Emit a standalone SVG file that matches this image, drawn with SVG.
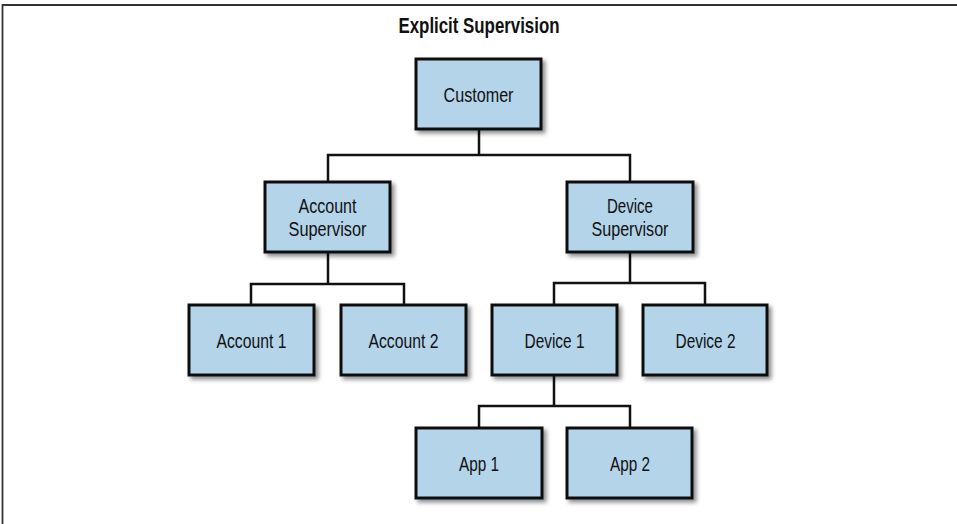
<svg xmlns="http://www.w3.org/2000/svg" width="957" height="524" viewBox="0 0 957 524">
<style>
.box{fill:#b4d4ea;stroke:#111;stroke-width:3;filter:url(#sh)}
.lbl{font-family:"Liberation Sans","DejaVu Sans",sans-serif;font-size:20.5px;fill:#111;text-anchor:middle}
.title{font-family:"Liberation Sans","DejaVu Sans",sans-serif;font-size:22px;font-weight:bold;fill:#111;text-anchor:middle}
.conn{fill:none;stroke:#111;stroke-width:2.5}
</style>
<defs>
<filter id="sh" x="-20%" y="-20%" width="150%" height="150%">
<feDropShadow dx="3" dy="3" stdDeviation="2" flood-color="#000" flood-opacity="0.45"/>
</filter>
</defs>
<rect width="957" height="524" fill="#fff"/>
<path d="M2.5,524 V5 H957" fill="none" stroke="#333" stroke-width="1.8"/>
<text class="title" x="479" y="33" textLength="161" lengthAdjust="spacingAndGlyphs">Explicit Supervision</text>
<g id="connectors">
<path class="conn" d="M479,129 V155 M328,182 V155 H630 V182"/>
<path class="conn" d="M328,252 V284 M251,305 V284 H404 V305"/>
<path class="conn" d="M630,252 V283 M554,305 V283 H705 V305"/>
<path class="conn" d="M554,375 V406 M479,428 V406 H630 V428"/>
</g>
<g id="customer"><rect class="box" x="416" y="59" width="125" height="70"/><text class="lbl" x="478.5" y="102" textLength="70" lengthAdjust="spacingAndGlyphs">Customer</text></g>
<g id="account-supervisor"><rect class="box" x="265" y="182" width="125" height="70"/><text class="lbl" x="327.5" y="213" textLength="58" lengthAdjust="spacingAndGlyphs">Account</text><text class="lbl" x="327.5" y="236" textLength="78" lengthAdjust="spacingAndGlyphs">Supervisor</text></g>
<g id="device-supervisor"><rect class="box" x="567" y="182" width="126" height="70"/><text class="lbl" x="630" y="213" textLength="46" lengthAdjust="spacingAndGlyphs">Device</text><text class="lbl" x="630" y="236" textLength="77" lengthAdjust="spacingAndGlyphs">Supervisor</text></g>
<g id="account-1"><rect class="box" x="189" y="305" width="125" height="70"/><text class="lbl" x="251.5" y="348" textLength="70" lengthAdjust="spacingAndGlyphs">Account 1</text></g>
<g id="account-2"><rect class="box" x="341" y="305" width="125" height="70"/><text class="lbl" x="403.5" y="348" textLength="70" lengthAdjust="spacingAndGlyphs">Account 2</text></g>
<g id="device-1"><rect class="box" x="492" y="305" width="125" height="70"/><text class="lbl" x="554.5" y="348" textLength="60" lengthAdjust="spacingAndGlyphs">Device 1</text></g>
<g id="device-2"><rect class="box" x="643" y="305" width="124" height="70"/><text class="lbl" x="705.5" y="348" textLength="60" lengthAdjust="spacingAndGlyphs">Device 2</text></g>
<g id="app-1"><rect class="box" x="416" y="428" width="126" height="70"/><text class="lbl" x="479" y="471" textLength="40" lengthAdjust="spacingAndGlyphs">App 1</text></g>
<g id="app-2"><rect class="box" x="567" y="428" width="125" height="70"/><text class="lbl" x="630" y="471" textLength="40" lengthAdjust="spacingAndGlyphs">App 2</text></g>
</svg>
